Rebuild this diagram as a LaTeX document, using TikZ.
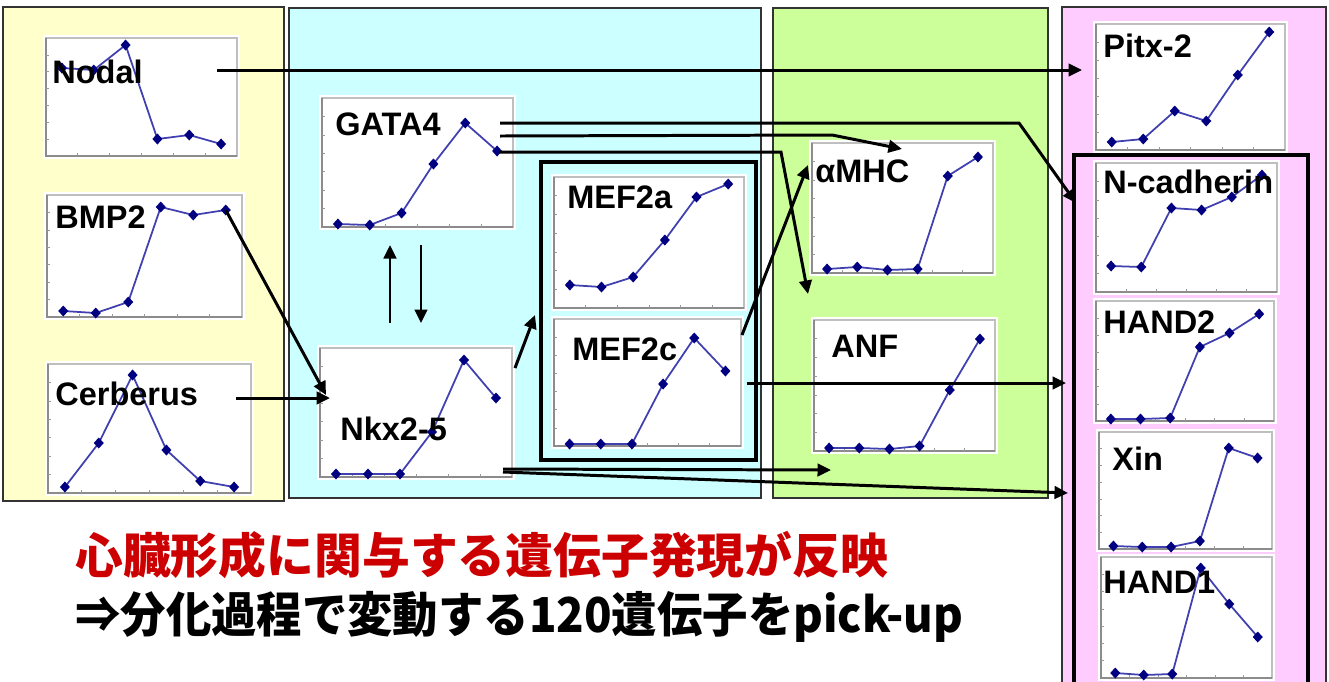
\documentclass[tikz,border=0pt]{standalone}
\usepackage{fontspec}
\usepackage{graphicx}
\setmainfont{Liberation Sans}
\newfontfamily\jpfont{Noto Sans CJK JP}
\usetikzlibrary{arrows.meta,fit}
\definecolor{panelY}{HTML}{FFFFCC}
\definecolor{panelC}{HTML}{CCFFFF}
\definecolor{panelG}{HTML}{CCFF99}
\definecolor{panelP}{HTML}{FFCCFF}
\definecolor{serblue}{HTML}{4040B0}
\definecolor{navy}{HTML}{000080}
\definecolor{jpred}{HTML}{CC0000}
\tikzset{
  panel/.style={draw=black!80, line width=0.8pt},
  bigbox/.style={draw=black, line width=2.3pt},
  chartframe/.style={draw=black!25, line width=0.7pt},
  axisline/.style={draw=black!45, line width=0.7pt},
  tickmark/.style={draw=black!40, line width=0.4pt},
  series/.style={draw=serblue, line width=1pt},
  mk/.style={fill=navy},
  lbl/.style={font=\bfseries\fontsize{18.5}{21}\selectfont, inner sep=0pt, anchor=base west},
  arr/.style={draw=black, line width=1.7pt, -{Triangle[length=2.7mm,width=2.5mm]}},
  jptext/.style={inner sep=0pt, anchor=base west},
}
% #1 name, #2 x0, #3 y0, #4 x1, #5 y1, #6 list of six y values
\newcommand{\genechart}[6]{%
  \fill[white] (#2-3,#3-3) rectangle (#4+3,#5+3);
  \node[chartframe, inner sep=0pt, fit={(#2,#3) (#4,#5)}] (#1) {};
  \draw[axisline] (#2,#3) -- (#2,#5) -- (#4,#5);
  \foreach \k in {1,...,6} \draw[tickmark] (#2,{#3+\k*(#5-#3)/7}) -- ++(3,0);
  \foreach \k in {1,...,5} \draw[tickmark] ({#2+\k*(#4-#2)/6},#5) -- ++(0,-3);
  \foreach \v [count=\i] in {#6} {\coordinate (#1-p\i) at ({#2+(\i-0.5)*(#4-#2)/6},\v);}
  \draw[series] (#1-p1) -- (#1-p2) -- (#1-p3) -- (#1-p4) -- (#1-p5) -- (#1-p6);
  \foreach \j in {1,...,6} \fill[mk] (#1-p\j) +(0,-5.5) -- +(5,0) -- +(0,5.5) -- +(-5,0) -- cycle;
}
\begin{document}
\begin{tikzpicture}[x=0.02cm,y=-0.02cm]
\clip (0,0) rectangle (1329,681);
\fill[white] (0,0) rectangle (1329,681);
% panels
\filldraw[panel, fill=panelY] (3,7) rectangle (284,501);
\filldraw[panel, fill=panelC] (289,8) rectangle (761,498);
\filldraw[panel, fill=panelG] (773,8) rectangle (1048,498);
\filldraw[panel, fill=panelP] (1062,7) rectangle (1326,720);
% charts
\genechart{nodal}{46}{38}{237}{156}{68,70,45,139,135,144}
\genechart{bmp}{47}{195}{242}{317}{311,313,302,207,215,210}
\genechart{cerb}{48}{364}{251}{493}{487,443,375,450,481,487}
\genechart{gata}{322}{98}{513}{227}{224,225,213,164,123,151}
\genechart{nkx}{320}{348}{512}{477}{474,474,474,432,360,398}
\genechart{mefa}{554}{177}{744}{308}{285,287,277,240,197,184}
\genechart{mefc}{554}{319}{741}{446}{444,444,444,384,338,371}
\genechart{amhc}{812}{143}{993}{273}{269,267,270,269,176,157}
\genechart{anf}{814}{320}{995}{451}{448,448,449,446,390,339}
\genechart{pitx}{1096}{24}{1285}{150}{142,139,111,121,75,32}
\genechart{ncad}{1096}{163}{1277}{292}{266,267,208,210,197,175}
\genechart{handb}{1096}{301}{1274}{421}{419,419,418,347,333,314}
\genechart{xin}{1099}{432}{1272}{549}{546,547,547,541,448,458}
\genechart{handa}{1101}{557}{1272}{678}{673,675,674,568,604,637}
% thick grouping boxes
\node[bigbox, inner sep=0pt, fit={(541,162) (756,460)}] (mefbox) {};
\node[bigbox, inner sep=0pt, fit={(1074,155) (1308,730)}] (rightbox) {};
% labels
\node[lbl] (nodalL) at (52,83) {Nodal};
\node[lbl] (bmpL) at (55,228) {BMP2};
\node[lbl] (cerbL) at (55,405) {Cerberus};
\node[lbl] (gataL) at (335,135) {GATA4};
\node[lbl] (nkxL) at (340,440) {Nkx2-5};
\node[lbl] (mefaL) at (567,208) {MEF2a};
\node[lbl] (mefcL) at (572,360) {MEF2c};
\node[lbl] (amhcL) at (815,182) {αMHC};
\node[lbl] (anfL) at (831,357) {ANF};
\node[lbl] (pitxL) at (1103,57) {Pitx-2};
\node[lbl] (ncadL) at (1103,193) {N-cadherin};
\node[lbl] (handbL) at (1103,333) {HAND2};
\node[lbl] (xinL) at (1112,470) {Xin};
\node[lbl] (handaL) at (1103,593) {HAND1};
% connector end points
\coordinate (nodalOut) at (217,70);
\coordinate (pitxIn) at (1082,70);
\coordinate (nkxInA) at (326,395);
\coordinate (cerbOut) at (236,398);
\coordinate (nkxInB) at (330,398);
\coordinate (upFrom) at (390,323);
\coordinate (upTo) at (390,245);
\coordinate (downFrom) at (421,245);
\coordinate (downTo) at (421,323);
\coordinate (nkxOutA) at (515,368);
\coordinate (mefIn) at (535,315);
\coordinate (gataOutA) at (500,123);
\coordinate (bendA) at (1019,123);
\coordinate (ncadIn) at (1076,203);
\coordinate (gataOutB) at (500,136);
\coordinate (bendB) at (832,135);
\coordinate (amhcInA) at (902,149);
\coordinate (gataOutC) at (500,152);
\coordinate (bendC) at (781,152);
\coordinate (anfIn) at (808,294);
\coordinate (mefcOutA) at (742,335);
\coordinate (amhcInB) at (808,165);
\coordinate (mefcOutB) at (747,383);
\coordinate (rightInA) at (1066,383);
\coordinate (nkxOutB) at (503,469);
\coordinate (greenIn) at (831,470);
\coordinate (nkxOutC) at (503,472);
\coordinate (rightInB) at (1068,493);
% connectors
\draw[arr] (nodalOut) -- (pitxIn);
\draw[arr] (bmp-p6) -- (nkxInA);
\draw[arr] (cerbOut) -- (nkxInB);
\draw[arr] (upFrom) -- (upTo);
\draw[arr] (downFrom) -- (downTo);
\draw[arr] (nkxOutA) -- (mefIn);
\draw[arr] (gataOutA) -- (bendA) -- (ncadIn);
\draw[arr] (gataOutB) -- (bendB) -- (amhcInA);
\draw[arr] (gataOutC) -- (bendC) -- (anfIn);
\draw[arr] (mefcOutA) -- (amhcInB);
\draw[arr] (mefcOutB) -- (rightInA);
\draw[arr] (nkxOutB) -- (greenIn);
\draw[arr] (nkxOutC) -- (rightInB);
% Japanese text
\node[jptext, text=jpred] (title) at (75,573) {\resizebox{16.26cm}{\height}{\jpfont\bfseries\fontsize{27.4}{30}\selectfont 心臓形成に関与する遺伝子発現が反映}};
\node[jptext, text=black] (sub) at (75,632) {\resizebox{17.76cm}{\height}{\jpfont\bfseries\fontsize{27.4}{30}\selectfont ⇒分化過程で変動する120遺伝子をpick-up}};
\end{tikzpicture}
\end{document}
